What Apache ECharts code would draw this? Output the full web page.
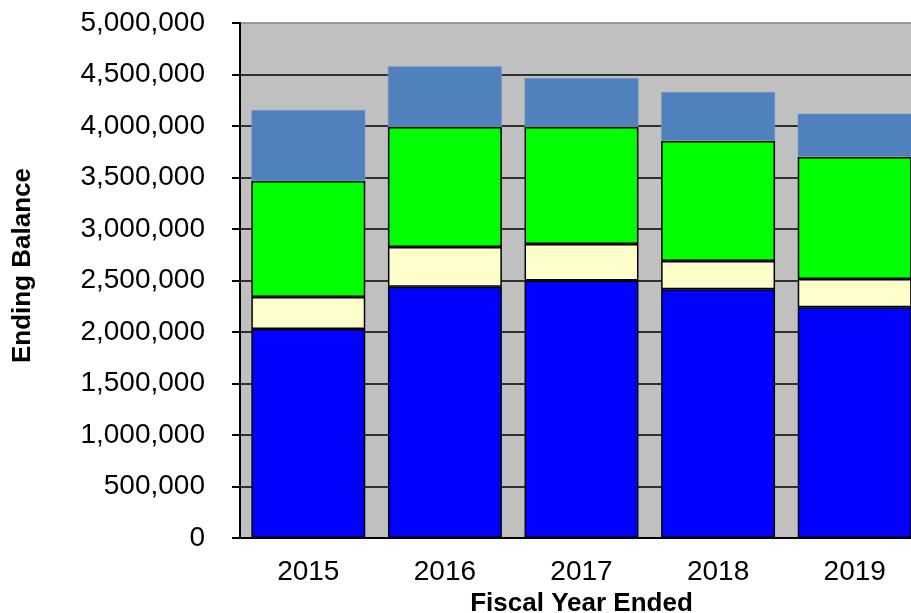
<!DOCTYPE html>
<html>
<head>
<meta charset="utf-8">
<script src="https://cdn.jsdelivr.net/npm/echarts@6/dist/echarts.min.js"></script>
<style>
  html, body { margin: 0; padding: 0; background: #fff; overflow: hidden; }
  #wrap { width: 911px; height: 613px; overflow: hidden; }
  #main { width: 923px; height: 613px; }
</style>
</head>
<body>
<div id="wrap"><div id="main"></div></div>
<script>
// 数据
var years = ['2015', '2016', '2017', '2018', '2019'];
var blueVals   = [2030000, 2440000, 2500000, 2415000, 2240000];
var yellowVals = [310000, 385000, 355000, 275000, 275000];
var greenVals  = [1125000, 1165000, 1135000, 1165000, 1185000];
var steelVals  = [690000, 590000, 475000, 475000, 420000];

// 网格线颜色：最上面一条为灰色
var gridColors = ['#000', '#000', '#000', '#000', '#000', '#000', '#000', '#000', '#000', '#000', '#808080'];

var myChart = echarts.init(document.getElementById('main'));

function seg(name, data, color, border) {
    return {
        name: name,
        type: 'bar',
        stack: 'total',
        barWidth: '83.4%',
        data: data,
        itemStyle: {
            color: color,
            borderColor: border ? '#000' : '#7f9fc8',
            borderWidth: border ? 1.5 : 0.5
        }
    };
}

var option = {
    animation: false,
    grid: {
        left: 240,
        right: 0,
        top: 23,
        bottom: 75,
        outerBoundsMode: 'none',
        containLabel: false,
        show: true,
        backgroundColor: '#c0c0c0',
        borderWidth: 0
    },
    xAxis: {
        type: 'category',
        data: years,
        name: 'Fiscal Year Ended',
        nameLocation: 'middle',
        nameGap: 50,
        nameTextStyle: {
            fontFamily: 'Liberation Sans',
            fontWeight: 'bold',
            fontSize: 26,
            color: '#000'
        },
        axisLine: { lineStyle: { color: '#000', width: 2 } },
        axisTick: { length: 9, lineStyle: { color: '#000', width: 2 } },
        axisLabel: {
            fontFamily: 'Liberation Sans',
            fontSize: 28,
            color: '#000',
            margin: 20
        }
    },
    yAxis: {
        type: 'value',
        min: 0,
        max: 5000000,
        interval: 500000,
        name: 'Ending Balance',
        nameLocation: 'middle',
        nameGap: 204,
        nameTextStyle: {
            fontFamily: 'Liberation Sans',
            fontWeight: 'bold',
            fontSize: 26,
            color: '#000',
            padding: [0, 0, 0, 30]
        },
        axisLine: { show: true, lineStyle: { color: '#000', width: 2 } },
        axisTick: { show: true, length: 8, lineStyle: { color: '#000', width: 2 } },
        axisLabel: {
            fontFamily: 'Liberation Sans',
            fontSize: 28,
            color: '#000',
            margin: 35,
            formatter: function (v) { return v.toLocaleString('en-US'); }
        },
        splitLine: { lineStyle: { color: gridColors, width: 1.5 } }
    },
    series: [
        seg('blue', blueVals, '#0000ff', true),
        seg('yellow', yellowVals, '#ffffcc', true),
        seg('green', greenVals, '#00ff00', true),
        seg('steel', steelVals, '#4f81bd', false)
    ]
};

myChart.setOption(option);
</script>
</body>
</html>
